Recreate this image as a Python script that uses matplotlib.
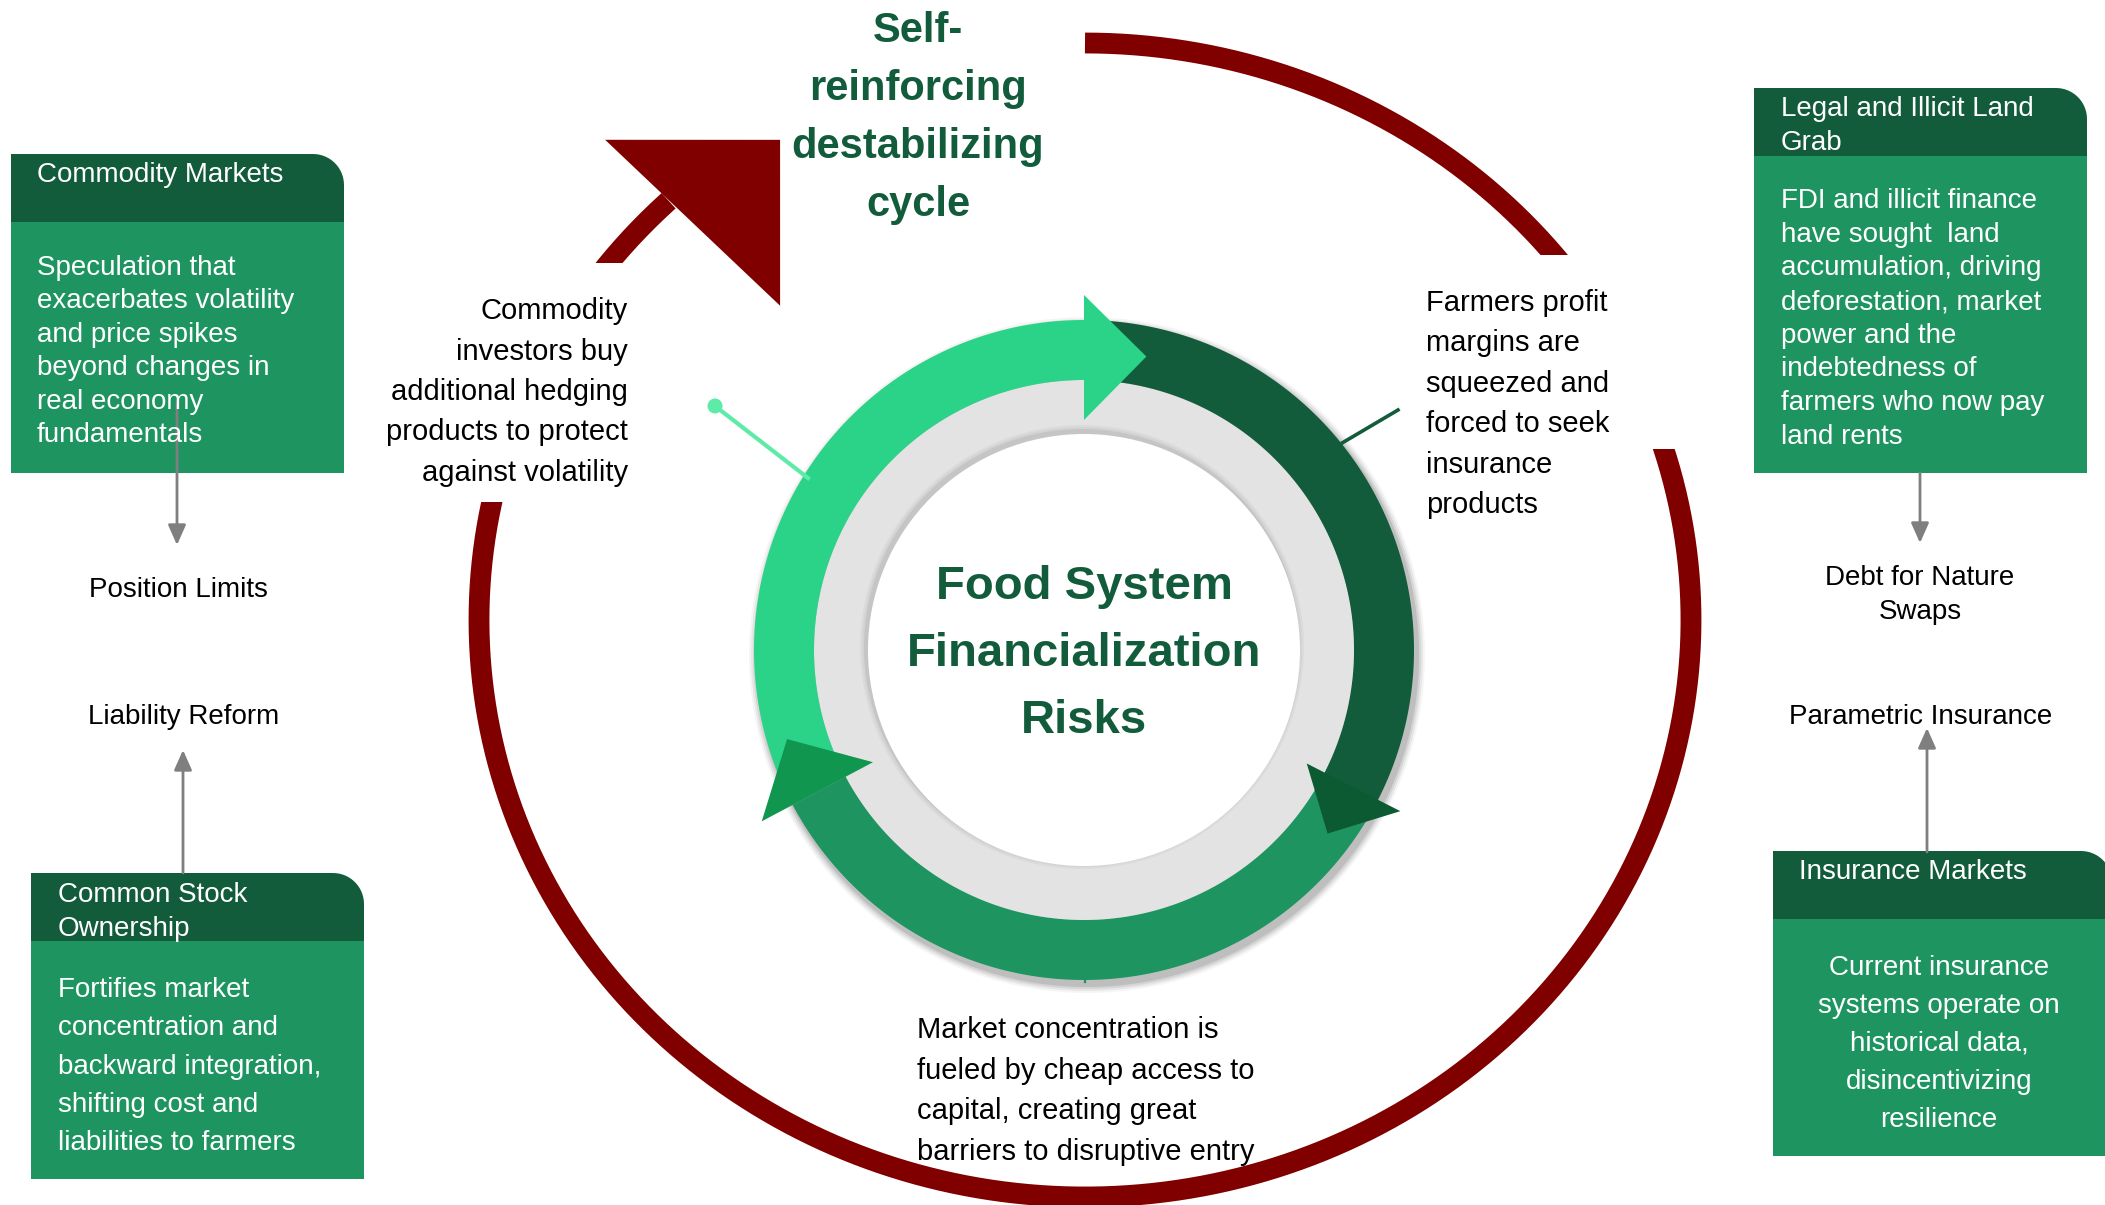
import numpy as np
import matplotlib.pyplot as plt
from matplotlib.patches import Polygon, Rectangle, Circle

plt.rcParams['font.family'] = ['Liberation Sans', 'DejaVu Sans']

# colours
DARK = '#125C3C'
MID = '#1E9460'
LIGHT = '#2BD388'
MAROON = '#800000'
GREY = '#7F7F7F'

# ---------------- text content
center_title = ['Food System', 'Financialization', 'Risks']
cycle_title = ['Self-', 'reinforcing', 'destabilizing', 'cycle']

box_titles = [['Commodity Markets'],
              ['Common Stock', 'Ownership'],
              ['Legal and Illicit Land', 'Grab'],
              ['Insurance Markets']]
box_bodies = [['Speculation that', 'exacerbates volatility', 'and price spikes',
               'beyond changes in', 'real economy', 'fundamentals'],
              ['Fortifies market', 'concentration and', 'backward integration,',
               'shifting cost and', 'liabilities to farmers'],
              ['FDI and illicit finance', 'have sought  land', 'accumulation, driving',
               'deforestation, market', 'power and the', 'indebtedness of',
               'farmers who now pay', 'land rents'],
              ['Current insurance', 'systems operate on', 'historical data,',
               'disincentivizing', 'resilience']]
policy_labels = [['Position Limits'], ['Liability Reform'],
                 ['Debt for Nature', 'Swaps'], ['Parametric Insurance']]

left_note = ['Commodity', 'investors buy', 'additional hedging',
             'products to protect', 'against volatility']
right_note = ['Farmers profit', 'margins are', 'squeezed and',
              'forced to seek', 'insurance', 'products']
bottom_note = ['Market concentration is', 'fueled by cheap access to',
               'capital, creating great', 'barriers to disruptive entry']

# ---------------- layout (pixel space of the picture)
# boxes: x0, x1, top, header bottom, bottom
box_geom = [(11, 344, 154, 222, 473), (31, 364, 873, 941, 1179),
            (1754, 2087, 88, 156, 473), (1773, 2112, 851, 919, 1156)]
# header text x, first baseline ; body text x, first baseline, step, align
head_pos = [(37, 182), (58, 902), (1781, 116), (1799, 879)]
body_pos = [(37, 275, 33.4, 'left'), (58, 997, 38.3, 'left'),
            (1781, 208, 33.7, 'left'), (1939, 975, 38.0, 'center')]
policy_pos = [(178, 597), (184, 724), (1920, 585), (1921, 724)]
# grey arrows: x, start y, tip y
policy_arrows = [(177, 402, 545), (183, 873, 750), (1920, 473, 543), (1927, 852, 728)]

# green ring
RC = (1084, 650)
R_IN, R_OUT, R_WHITE = 270, 330, 216
# (colour, start angle, end angle)
ring_segs = [(LIGHT, 90, 208), (DARK, -31.5, 86), (MID, 208, 328.5)]
# arrow heads: colour, base angle, base r0, base r1, tip angle, tip r
ring_heads = [(LIGHT, 90, 230, 355, 78, 300),
              ('#0B5A32', -27, 250, 355, -37, 305),
              ('#10964F', 208, 239, 365, 196.7, 310)]

# maroon outer cycle (ellipse)
EC = (1085, 620)
EA, EB = 606, 577
cycle_span = (90, -226.6)
head_t = 133.4
# head corners as (along tangent, along outward normal)
head_shape = [(-6.4, 87.8), (123.6, -29.3), (12.6, -152.6)]


def pol(c, r, t):
    t = np.radians(t)
    return c[0] + r * np.cos(t), c[1] - r * np.sin(t)


def ring_poly(c, r0, r1, t0, t1, n=200):
    t = np.radians(np.linspace(t0, t1, n))
    outer = np.c_[c[0] + r1 * np.cos(t), c[1] - r1 * np.sin(t)]
    inner = np.c_[c[0] + r0 * np.cos(t[::-1]), c[1] - r0 * np.sin(t[::-1])]
    return np.vstack([outer, inner])


def put_lines(x, y0, step, lines, **kw):
    for i, s in enumerate(lines):
        ax.text(x, y0 + i * step, s, va='baseline', **kw)


def header_poly(x0, x1, yt, ys, r=31):
    a = np.radians(np.linspace(90, 0, 16))
    cx, cy = x1 - r, yt + r
    arc = list(zip(cx + r * np.cos(a), cy - r * np.sin(a)))
    return [(x0, ys), (x0, yt)] + arc + [(x1, ys)]


fig = plt.figure(figsize=(21.05, 12.05), dpi=100)
ax = fig.add_axes([0, 0, 1, 1])
ax.set_xlim(0, 2105)
ax.set_ylim(1205, 0)
ax.axis('off')

# ---------------- maroon cycle
t = np.radians(np.linspace(cycle_span[0], cycle_span[1], 800))
ax.plot(EC[0] + EA * np.cos(t), EC[1] - EB * np.sin(t), color=MAROON,
        lw=15, solid_capstyle='butt', zorder=1)
# white panels behind the side notes cut the cycle
ax.add_patch(Rectangle((440, 263), 205, 239, fc='white', ec='none', zorder=2))
ax.add_patch(Rectangle((1490, 255), 230, 194, fc='white', ec='none', zorder=2))

th = np.radians(head_t)
p0 = np.array([EC[0] + EA * np.cos(th), EC[1] - EB * np.sin(th)])
u = np.array([EA * np.sin(th), EB * np.cos(th)])
u /= np.linalg.norm(u)
nrm = np.array([np.cos(th) / EA, -np.sin(th) / EB])
nrm /= np.linalg.norm(nrm)
tri = [p0 + a * u + b * nrm for a, b in head_shape]
ax.add_patch(Polygon(tri, closed=True, fc=MAROON, ec='none', zorder=3))

# ---------------- central ring
for k, al in enumerate([0.10, 0.08, 0.06, 0.04]):
    c = (RC[0] + 3, RC[1] + 5)
    ax.add_patch(Polygon(ring_poly(c, R_IN - 2, R_OUT + 2 + 2 * k, 0, 360),
                         fc='black', alpha=al, ec='none', zorder=3))
ax.add_patch(Circle(RC, R_IN, fc='#E3E3E3', ec='none', zorder=4))
for k, al in enumerate([0.06, 0.04, 0.03]):
    ax.add_patch(Circle((RC[0] - 2, RC[1] - 3), R_WHITE + 2 + 2 * k, fc='black',
                        alpha=al, ec='none', zorder=4))
ax.add_patch(Circle(RC, R_WHITE, fc='white', ec='none', zorder=5))

for col, t0, t1 in ring_segs:
    ax.add_patch(Polygon(ring_poly(RC, R_IN, R_OUT, t0, t1), fc=col, ec='none', zorder=5))
for col, tb, r0, r1, tt, rt in ring_heads:
    ax.add_patch(Polygon([pol(RC, r0, tb), pol(RC, r1, tb), pol(RC, rt, tt)],
                         fc=col, ec='none', zorder=6))

# connectors from ring to the notes
ax.plot([715, 808], [406, 478], color='#5EEBA8', lw=3, zorder=6)
ax.add_patch(Circle((715, 406), 7.5, fc='#5EEBA8', ec='none', zorder=6))
ax.plot([1398, 1337], [410, 446], color=DARK, lw=2.6, zorder=6)
ax.plot([1085, 1085], [966, 982], color=MID, lw=1.6, zorder=6)

# ---------------- titles
put_lines(RC[0], 599, 67, center_title, ha='center', fontsize=34,
          fontweight='bold', color=DARK, zorder=10)
put_lines(918, 42, 58, cycle_title, ha='center', fontsize=30,
          fontweight='bold', color=DARK, zorder=10)

# ---------------- notes
put_lines(628, 319, 40.5, left_note, ha='right', fontsize=21, color='black', zorder=10)
put_lines(1426, 311, 40.4, right_note, ha='left', fontsize=21, color='black', zorder=10)
put_lines(917, 1038, 40.7, bottom_note, ha='left', fontsize=21, color='black', zorder=10)

# ---------------- boxes
for (x0, x1, yt, ys, yb), hp, bp, ttl, body in zip(box_geom, head_pos, body_pos,
                                                   box_titles, box_bodies):
    ax.add_patch(Polygon(header_poly(x0, x1, yt, ys), closed=True, fc=DARK, ec='none', zorder=7))
    ax.add_patch(Rectangle((x0, ys), x1 - x0, yb - ys, fc=MID, ec='none', zorder=7))
    put_lines(hp[0], hp[1], 33.5, ttl, ha='left', fontsize=20, color='white', zorder=10)
    put_lines(bp[0], bp[1], bp[2], body, ha=bp[3], fontsize=20, color='white', zorder=10)

for (x, y), lab in zip(policy_pos, policy_labels):
    put_lines(x, y, 34, lab, ha='center', fontsize=20, color='black', zorder=10)

for x, y0, y1 in policy_arrows:
    ax.annotate('', xy=(x, y1), xytext=(x, y0), zorder=9,
                arrowprops=dict(arrowstyle='-|>,head_length=0.45,head_width=0.2',
                                mutation_scale=27, color=GREY, lw=2,
                                shrinkA=0, shrinkB=0))

fig.savefig('out.png', dpi=100, facecolor='white')
